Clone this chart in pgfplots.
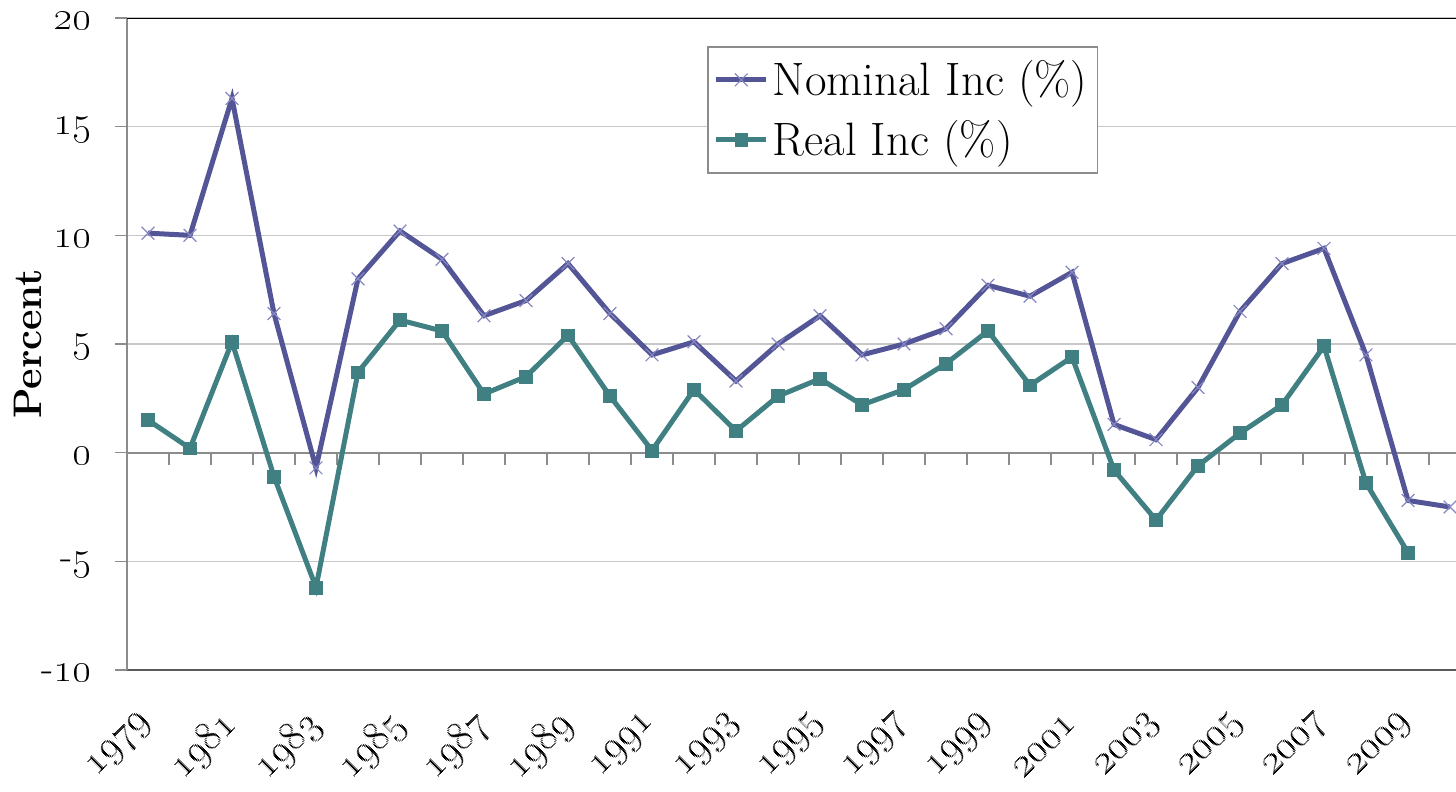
\documentclass[border=0pt]{standalone}
\usepackage{pgfplots}
\pgfplotsset{compat=1.18}
\definecolor{nomline}{RGB}{83,85,150}
\definecolor{nommark}{RGB}{135,135,195}
\definecolor{realline}{RGB}{64,128,131}
\newcommand{\osn}[1]{\oldstylenums{#1}}

\begin{document}
\begin{tikzpicture}
\begin{axis}[
    scale only axis,
    width=664.5bp, height=326bp,
    xmin=1978.5, xmax=2010.1428,
    ymin=-10, ymax=20,
    axis x line*=bottom, axis y line*=left,
    x axis line style={draw=black!65, line width=1bp, -},
    y axis line style={draw=black!45, line width=0.8bp, -},
    xtick={1979,1981,...,2009},
    xticklabels={\osn{1979},\osn{1981},\osn{1983},\osn{1985},
        \osn{1987},\osn{1989},\osn{1991},\osn{1993},
        \osn{1995},\osn{1997},\osn{1999},\osn{2001},
        \osn{2003},\osn{2005},\osn{2007},\osn{2009}},
    major x tick style={draw=none},
    xticklabel style={xshift=2bp, yshift=-16bp, rotate=45, anchor=east,
        font=\fontsize{22.5}{26}\selectfont},
    ytick={-10,-5,0,5,10,15,20},
    yticklabels={-\osn{10},-\osn{5},\osn{0},\osn{5},
        \osn{10},\osn{15},\osn{20}},
    yticklabel style={xshift=-8bp, yshift=-1.5bp, font=\fontsize{20}{24}\selectfont},
    tick align=outside,
    major tick length=6bp,
    major y tick style={draw=black!45, line width=0.8bp},
    ymajorgrids,
    y grid style={black!22, line width=0.8bp},
    ylabel={\bfseries Percent},
    ylabel style={at={(rel axis cs:-0.0745,0.5)}, anchor=center, font=\fontsize{20}{24}\selectfont},
    legend style={at={(rel axis cs:0.4364,0.957)}, anchor=north west,
        draw=black!45, line width=0.8bp, font=\fontsize{23.5}{28}\selectfont,
        legend cell align=left, row sep=7bp, inner ysep=5bp},
    legend image code/.code={\draw[mark repeat=2, mark phase=2, #1]
        plot coordinates {(0bp,0bp) (12.5bp,0bp) (25bp,0bp)};},
]

% zero line with its tick marks
\addplot[forget plot, black!45, line width=1bp, no marks] coordinates {(1978.5,0) (2010.2,0)};
\addplot[forget plot, ycomb, black!45, line width=0.8bp, no marks] coordinates {
    (1979.5,-0.55) (1980.5,-0.55) (1981.5,-0.55) (1982.5,-0.55) (1983.5,-0.55)
    (1984.5,-0.55) (1985.5,-0.55) (1986.5,-0.55) (1987.5,-0.55) (1988.5,-0.55)
    (1989.5,-0.55) (1990.5,-0.55) (1991.5,-0.55) (1992.5,-0.55) (1993.5,-0.55)
    (1994.5,-0.55) (1995.5,-0.55) (1996.5,-0.55) (1997.5,-0.55) (1998.5,-0.55)
    (1999.5,-0.55) (2000.5,-0.55) (2001.5,-0.55) (2002.5,-0.55) (2003.5,-0.55)
    (2004.5,-0.55) (2005.5,-0.55) (2006.5,-0.55) (2007.5,-0.55) (2008.5,-0.55)
    (2009.5,-0.55)
};

% Nominal
\addplot[nomline, line width=2.5bp, mark=x, mark size=4.5bp,
    mark options={draw=nommark, line width=0.6bp, solid}] coordinates {
    (1979,10.1) (1980,10.0) (1981,16.3) (1982,6.4) (1983,-0.7)
    (1984,8.0) (1985,10.2) (1986,8.9) (1987,6.3) (1988,7.0)
    (1989,8.7) (1990,6.4) (1991,4.5) (1992,5.1) (1993,3.3)
    (1994,5.0) (1995,6.3) (1996,4.5) (1997,5.0) (1998,5.7)
    (1999,7.7) (2000,7.2) (2001,8.3) (2002,1.3) (2003,0.6)
    (2004,3.0) (2005,6.5) (2006,8.7) (2007,9.4) (2008,4.5)
    (2009,-2.2) (2010,-2.5)
};

% Real
\addplot[realline, line width=2.5bp, mark=square*, mark size=3.2bp,
    mark options={fill=realline, draw=realline, line width=0.3bp, solid}] coordinates {
    (1979,1.5) (1980,0.2) (1981,5.1) (1982,-1.1) (1983,-6.2)
    (1984,3.7) (1985,6.1) (1986,5.6) (1987,2.7) (1988,3.5)
    (1989,5.4) (1990,2.6) (1991,0.1) (1992,2.9) (1993,1.0)
    (1994,2.6) (1995,3.4) (1996,2.2) (1997,2.9) (1998,4.1)
    (1999,5.6) (2000,3.1) (2001,4.4) (2002,-0.8) (2003,-3.1)
    (2004,-0.6) (2005,0.9) (2006,2.2) (2007,4.9) (2008,-1.4)
    (2009,-4.6)
};

\legend{Nominal Inc (\%), Real Inc (\%)}

\draw[black, line width=1.2bp] (rel axis cs:0,1) -- (rel axis cs:1,1);
\coordinate (bl) at (rel axis cs:0,0);
\coordinate (tr) at (rel axis cs:1,1);
\end{axis}
\pgfresetboundingbox
\useasboundingbox ([shift={(-63.5bp,-61bp)}]bl) rectangle ([shift={(0bp,9bp)}]tr);
\end{tikzpicture}
\end{document}
